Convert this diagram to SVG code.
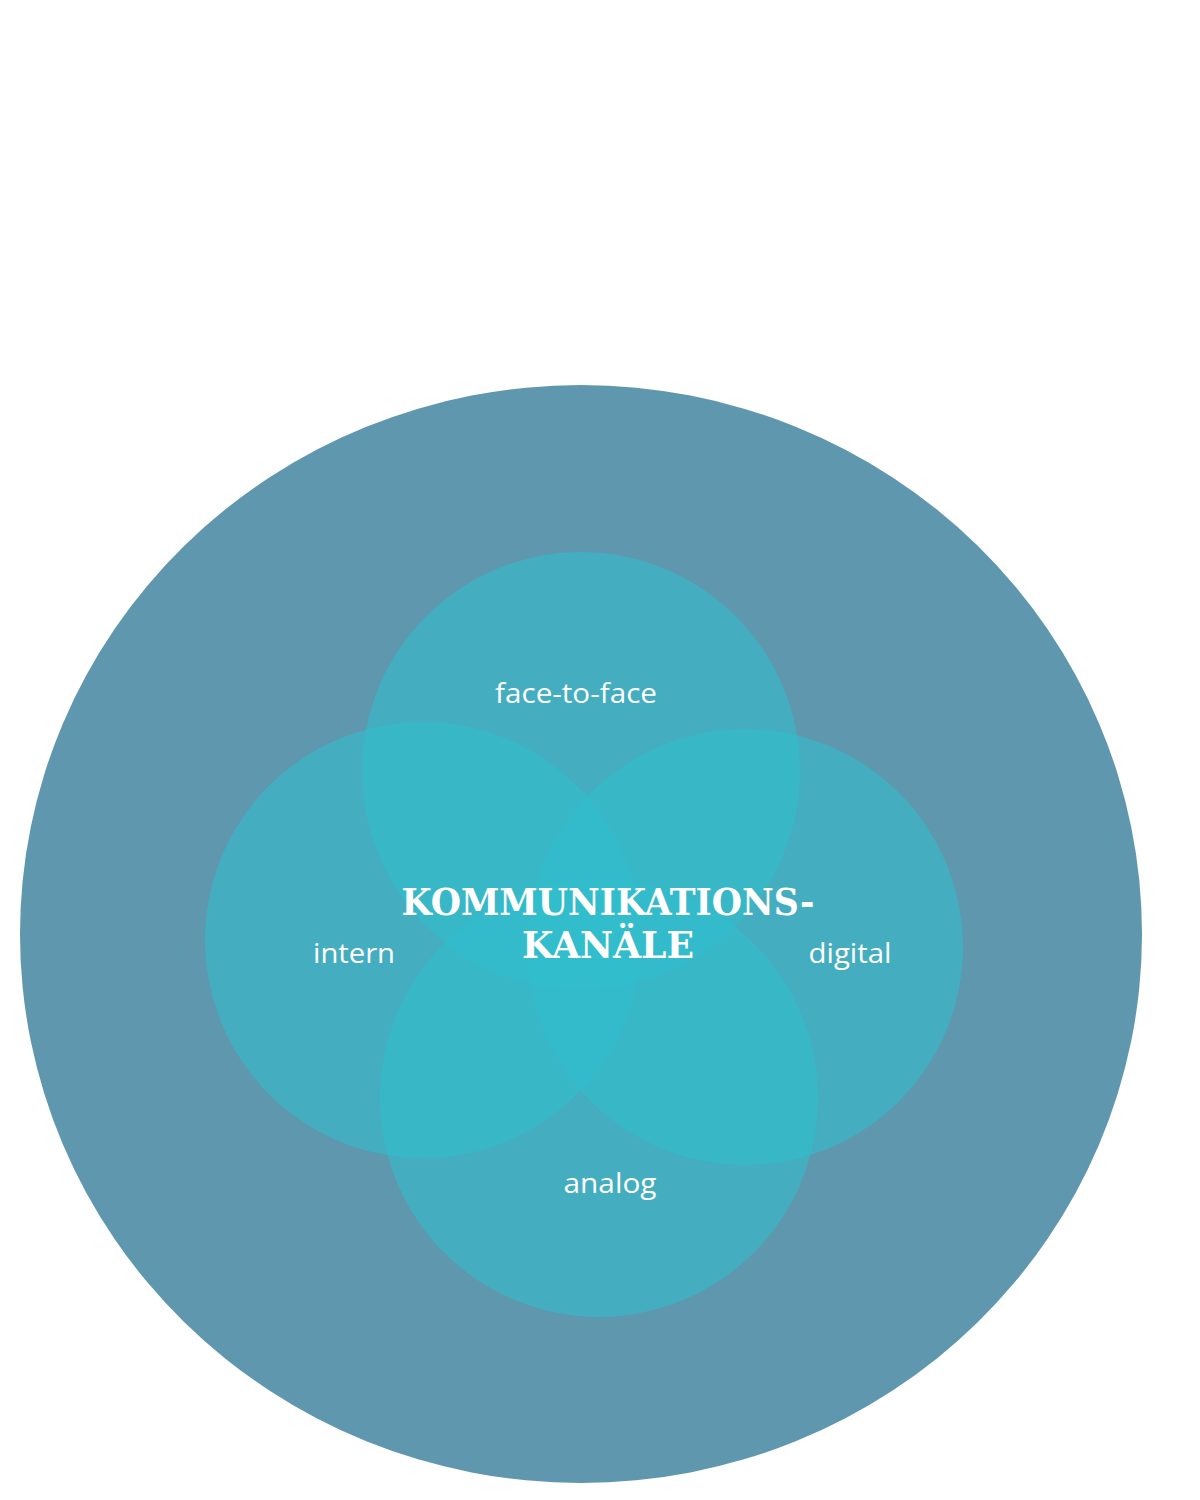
<svg xmlns="http://www.w3.org/2000/svg" width="1200" height="1500" viewBox="0 0 1200 1500">
  <style>
    .outer { fill: #5e97ae; }
    .ch { fill: #30bfcd; fill-opacity: 0.55; }
    .lbl { font-family: "Open Sans", "Liberation Sans", sans-serif; font-size: 28px; fill: #ffffff; text-anchor: middle; }
    .title { font-family: "DejaVu Serif", "Liberation Serif", serif; font-weight: bold; font-size: 38px; fill: #ffffff; text-anchor: middle; }
  </style>
  <rect x="0" y="0" width="1200" height="1500" fill="#ffffff"/>
  <g id="outer">
    <ellipse class="outer" cx="581" cy="934" rx="561" ry="549"/>
  </g>
  <g id="face-to-face">
    <circle class="ch" cx="581" cy="771" r="219"/>
  </g>
  <g id="intern">
    <circle class="ch" cx="423" cy="940" r="218"/>
  </g>
  <g id="digital">
    <circle class="ch" cx="745" cy="947" r="218"/>
  </g>
  <g id="analog">
    <circle class="ch" cx="599" cy="1098" r="219"/>
  </g>
  <g id="labels">
    <text class="lbl" x="576" y="703" textLength="162" lengthAdjust="spacingAndGlyphs">face-to-face</text>
    <text class="lbl" x="354" y="963" textLength="82" lengthAdjust="spacingAndGlyphs">intern</text>
    <text class="lbl" x="850" y="963" textLength="83" lengthAdjust="spacingAndGlyphs">digital</text>
    <text class="lbl" x="610" y="1193" textLength="93" lengthAdjust="spacingAndGlyphs">analog</text>
  </g>
  <g id="center">
    <text class="title" x="608" y="915" textLength="413" lengthAdjust="spacingAndGlyphs">KOMMUNIKATIONS-</text>
    <text class="title" x="608" y="958" textLength="172" lengthAdjust="spacingAndGlyphs">KANÄLE</text>
  </g>
</svg>
